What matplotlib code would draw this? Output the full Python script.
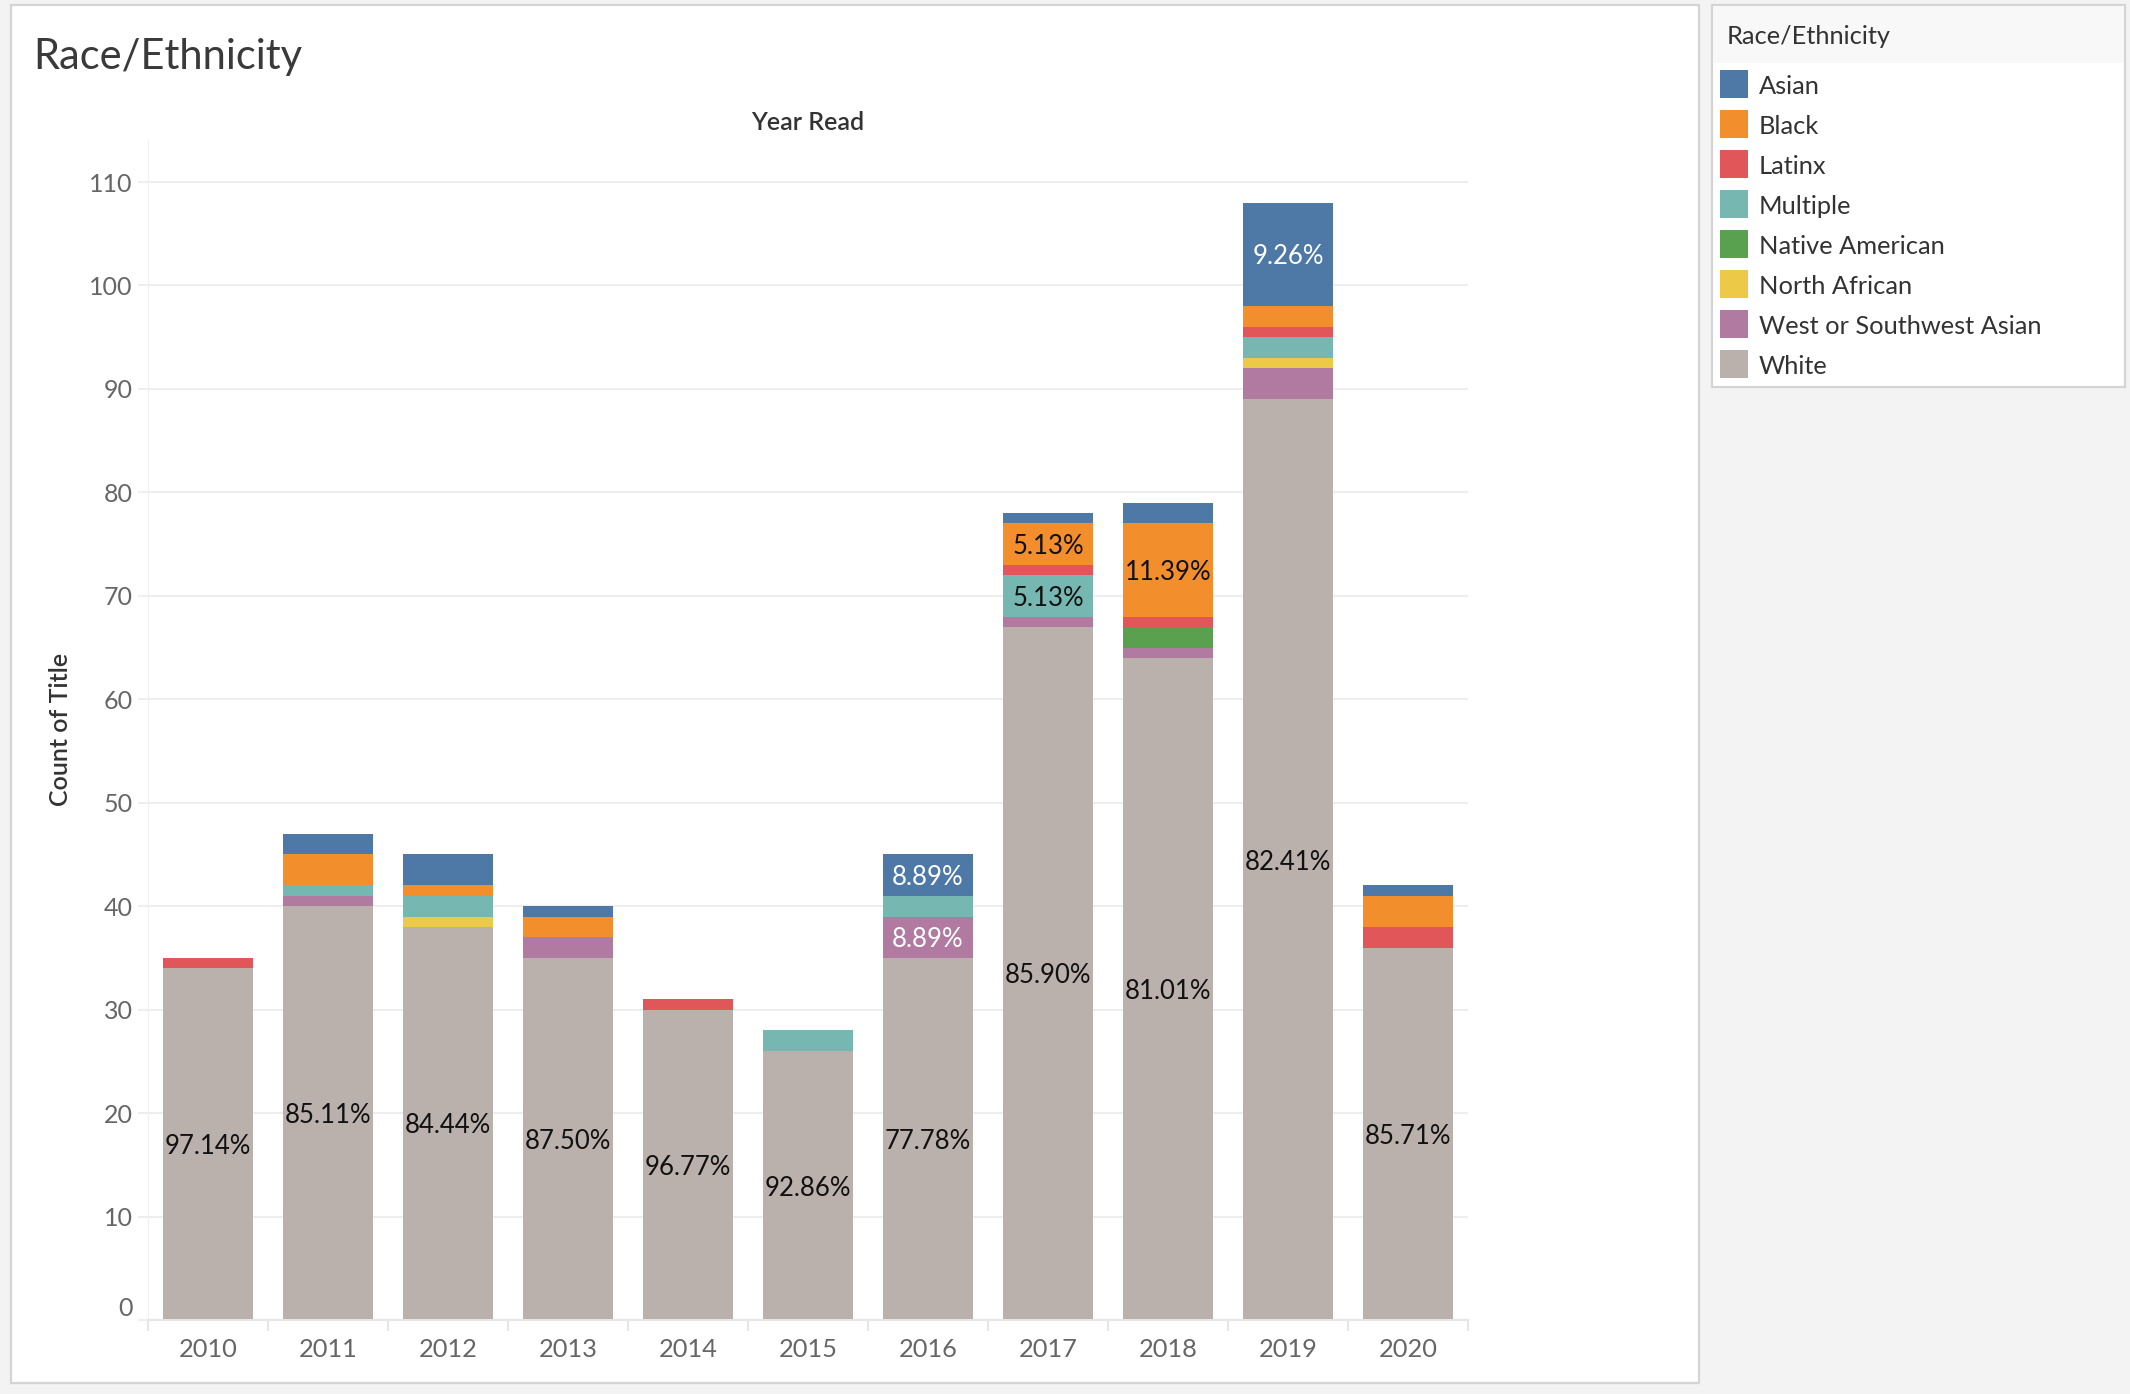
import numpy as np
import matplotlib.pyplot as plt
from matplotlib.patches import Rectangle
from matplotlib.transforms import ScaledTranslation

years = ['2010', '2011', '2012', '2013', '2014', '2015', '2016', '2017', '2018', '2019', '2020']

# stacking order, bottom to top
white = [34, 40, 38, 35, 30, 26, 35, 67, 64, 89, 36]
west_sw_asian = [0, 1, 0, 2, 0, 0, 4, 1, 1, 3, 0]
north_african = [0, 0, 1, 0, 0, 0, 0, 0, 0, 1, 0]
native_american = [0, 0, 0, 0, 0, 0, 0, 0, 2, 0, 0]
multiple = [0, 1, 2, 0, 0, 2, 2, 4, 0, 2, 0]
latinx = [1, 0, 0, 0, 1, 0, 0, 1, 1, 1, 2]
black = [0, 3, 1, 2, 0, 0, 0, 4, 9, 2, 3]
asian = [0, 2, 3, 1, 0, 0, 4, 1, 2, 10, 1]

legend_order = ['Asian', 'Black', 'Latinx', 'Multiple', 'Native American',
                'North African', 'West or Southwest Asian', 'White']
colors = {'Asian': '#4e79a7', 'Black': '#f28e2b', 'Latinx': '#e15759',
          'Multiple': '#76b7b2', 'Native American': '#59a14f',
          'North African': '#edc948', 'West or Southwest Asian': '#b07aa1',
          'White': '#bab0ac'}
stack = [('White', white), ('West or Southwest Asian', west_sw_asian),
         ('North African', north_african), ('Native American', native_american),
         ('Multiple', multiple), ('Latinx', latinx), ('Black', black), ('Asian', asian)]

plt.rcParams['font.family'] = ['Lato', 'DejaVu Sans']

W, H = 2130, 1394
fig = plt.figure(figsize=(W / 100, H / 100), dpi=100)
fig.patch.set_facecolor('#f3f3f3')

def fx(px):
    return px / W

def fy(py):
    return 1 - py / H

# panels (behind the axes)
fig.patches.append(Rectangle((fx(11), fy(1383)), fx(1699) - fx(11), fy(5) - fy(1383),
                             transform=fig.transFigure, facecolor='white',
                             edgecolor='#d4d4d4', lw=1.6, zorder=-5))
fig.patches.append(Rectangle((fx(1712), fy(387)), fx(2125) - fx(1712), fy(5) - fy(387),
                             transform=fig.transFigure, facecolor='white',
                             edgecolor='#d4d4d4', lw=1.6, zorder=-5))
fig.patches.append(Rectangle((fx(1713), fy(63)), fx(2124) - fx(1713), fy(6) - fy(63),
                             transform=fig.transFigure, facecolor='#f8f8f8',
                             edgecolor='none', zorder=-4))

ax = fig.add_axes([fx(148), fy(1320), fx(1468) - fx(148), fy(140) - fy(1320)])
ax.set_zorder(2)
ax.set_facecolor('none')

x = np.arange(len(years))
totals = np.sum([np.array(v) for _, v in stack], axis=0)
bottom = np.zeros(len(years))
for name, vals in stack:
    vals = np.array(vals)
    ax.bar(x, vals, bottom=bottom, width=0.75, color=colors[name], linewidth=0, zorder=2)
    for i, v in enumerate(vals):
        if v > 0 and (name == 'White' or v >= 4):
            tc = 'white' if name in ('Asian', 'West or Southwest Asian') else '#111111'
            ax.text(x[i], bottom[i] + v / 2, '%.2f%%' % (v / totals[i] * 100),
                    ha='center', va='center_baseline', fontsize=18.5, color=tc, zorder=3)
    bottom += vals

ax.set_xlim(-0.5, len(years) - 0.5)
ax.set_ylim(0, 114.06)
ax.set_yticks(np.arange(0, 111, 10))
ax.set_xticks(x)
ax.set_xticklabels(years)
ax.set_xticks(np.arange(-0.5, len(years), 1), minor=True)
ax.yaxis.grid(True, color='#eeeeee', lw=1.5, zorder=0)
ax.set_axisbelow(True)
ax.tick_params(axis='y', length=7, color='#eeeeee', width=1.5, pad=4,
               labelsize=18, labelcolor='#666666')
ax.tick_params(axis='x', which='major', length=0, pad=13,
               labelsize=18.3, labelcolor='#666666')
ax.tick_params(axis='x', which='minor', length=8, color='#e6e6e6', width=1.5)
for s in ['top', 'right']:
    ax.spines[s].set_visible(False)
ax.spines['left'].set_color('#f0f0f0')
ax.spines['bottom'].set_color('#e6e6e6')
ax.spines['bottom'].set_linewidth(1.5)

lab0 = ax.get_yticklabels()[0]
lab0.set_transform(lab0.get_transform() + ScaledTranslation(0, 0.14, fig.dpi_scale_trans))

# titles
fig.text(fx(33), fy(57), 'Race/Ethnicity', fontsize=30, fontweight='normal',
         color='#3a3a3a', ha='left', va='center')
fig.text(fx(808), fy(122), 'Year Read', fontsize=18, fontweight='semibold',
         color='#333333', ha='center', va='center')
fig.text(fx(61), fy(729), 'Count of Title', fontsize=18, fontweight='semibold',
         color='#333333', ha='center', va='center', rotation=90)

# legend
fig.text(fx(1727), fy(37), 'Race/Ethnicity', fontsize=18.3, color='#333333',
         ha='left', va='center')
for k, name in enumerate(legend_order):
    yc = 84 + 40 * k
    fig.patches.append(Rectangle((fx(1720), fy(yc + 14)), fx(28), 28 / H,
                                 transform=fig.transFigure, facecolor=colors[name],
                                 edgecolor='none'))
    fig.text(fx(1759), fy(yc + 2), name, fontsize=18.3, color='#333333',
             ha='left', va='center')

fig.savefig('out.png', dpi=100, facecolor=fig.get_facecolor())
